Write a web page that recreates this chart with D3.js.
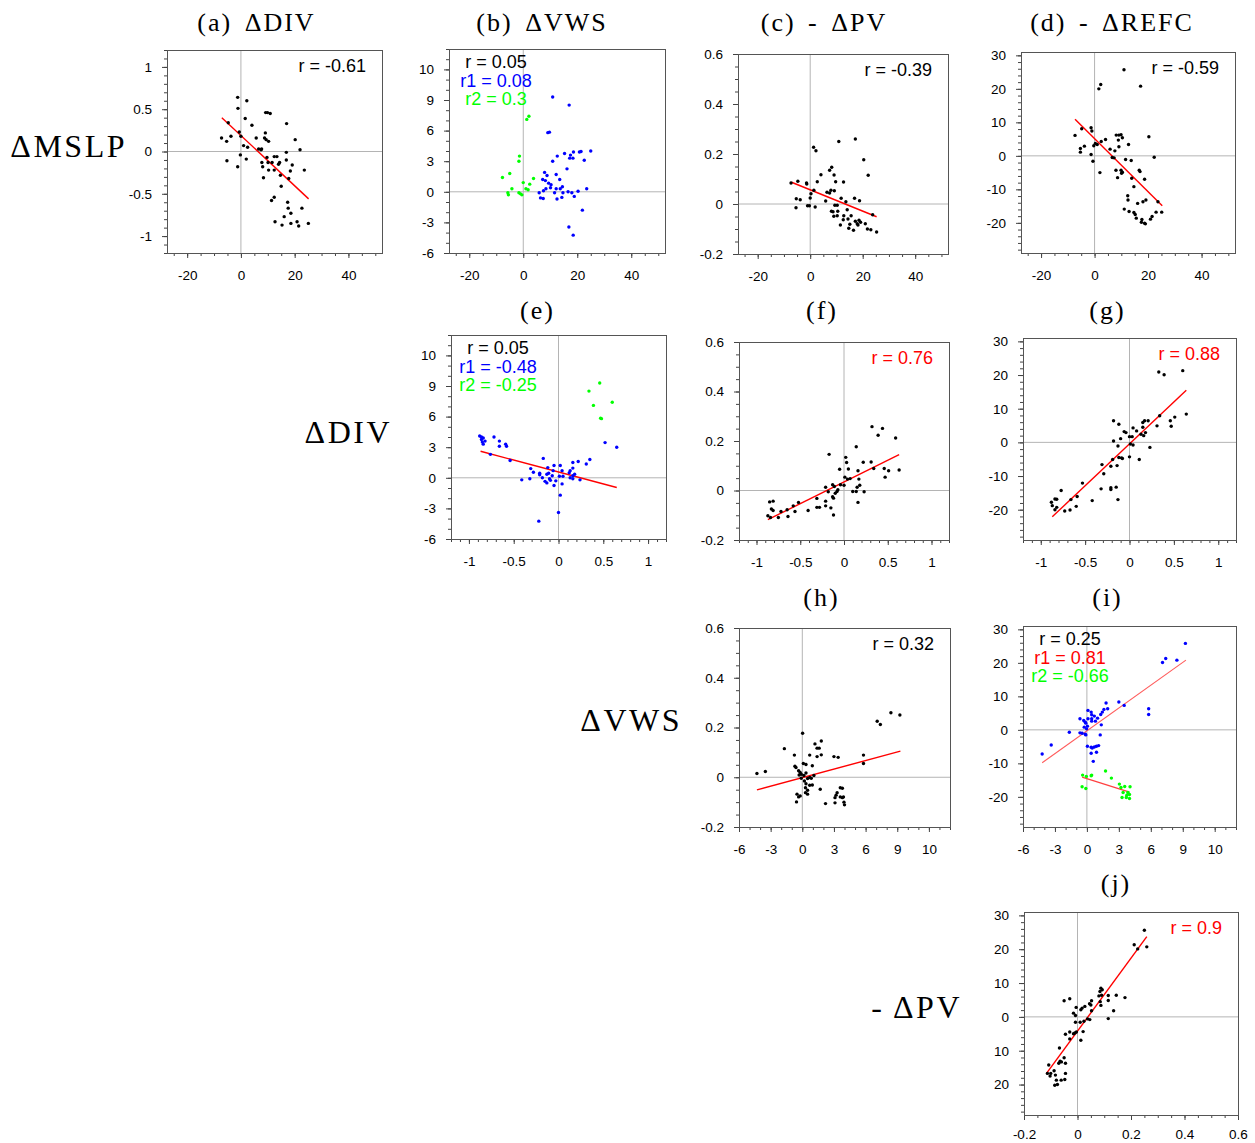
<!DOCTYPE html>
<html>
<head>
<meta charset="utf-8">
<script src="https://cdn.jsdelivr.net/npm/d3@7"></script>
<style>
body { margin: 0; background: #fff; }
.tick text { font-family: "Liberation Sans", Arial, sans-serif; font-size: 13.5px; fill: #000; }
.tick line { stroke: #444; }
.title { font-family: "Liberation Serif", "Times New Roman", serif; font-size: 26px; letter-spacing: 2px; word-spacing: 4px; }
.rowlab { font-family: "Liberation Serif", "Times New Roman", serif; font-size: 32px; letter-spacing: 2.5px; }
.rtxt { font-family: "Liberation Sans", Arial, sans-serif; font-size: 18px; }
</style>
</head>
<body>
<svg id="chart" width="1255" height="1143"></svg>
<script>
// tick values and labels (the "10" labels sit on the 12 tick, as in the original)
var ticksMslp = [-20, 0, 20, 40]
var labMslp = ['-20', '0', '20', '40']
var ticksDiv = [-1, -0.5, 0, 0.5, 1]
var labDiv = ['-1', '-0.5', '0', '0.5', '1']
var ticksVws = [-6, -3, 0, 3, 6, 9, 12]
var labVws = ['-6', '-3', '0', '3', '6', '9', '10']
var ticksPv = [-0.2, 0, 0.2, 0.4, 0.6]
var labPv = ['-0.2', '0', '0.2', '0.4', '0.6']
var ticksRefc = [-20, -10, 0, 10, 20, 30]
var labRefc = ['-20', '-10', '0', '10', '20', '30']
var labRefcJ = ['20', '10', '0', '10', '20', '30']

// (a) MSLP vs DIV
var ptsA = [[-1.2,0.64],[-1.1,0.51],[2.2,0.60],[1.6,0.39],[4.1,0.31],[-4.7,0.34],[-7.2,0.16],[-5.3,0.12],[-3.7,0.18],[-0.6,0.23],[0,0.18],[1.0,0.07],[2.5,0.05],[5.7,0.16],[6.6,0.03],[7.5,0.02],[7.7,0.03],[9.1,0.22],[8.8,0.16],[9.4,0.14],[10.3,0.12],[9.2,0.46],[9.9,0.46],[10.9,0.45],[17.0,0.33],[20.2,0.14],[22.0,0.02],[16.9,-0.01],[-5.2,-0.11],[-0.2,-0.04],[-1.2,-0.18],[2.0,-0.09],[7.8,-0.13],[8.1,-0.18],[8.4,-0.31],[9.7,-0.07],[10.1,-0.13],[10.3,-0.22],[11.6,-0.13],[12.4,-0.06],[13.4,-0.06],[14.4,-0.13],[14.0,-0.15],[12.4,-0.22],[14.7,-0.28],[15.0,-0.41],[16.9,-0.10],[17.8,-0.32],[18.4,-0.23],[19.1,-0.16],[23.6,-0.22],[11.4,-0.58],[12.4,-0.54],[17.4,-0.60],[17.6,-0.67],[18.6,-0.73],[16.1,-0.77],[12.7,-0.83],[15.3,-0.87],[18.6,-0.85],[20.9,-0.83],[21.5,-0.88],[22.7,-0.67],[25.1,-0.85]]
var fitA = [[-7.1, 0.40], [25.2, -0.56]]

// (b) MSLP vs VWS, two groups
var ptsB1 = [[10.9,9.3],[17.0,8.5],[9.1,5.8],[9.7,5.85],[12.6,3.5],[10.9,3.0],[15.3,3.75],[17.5,3.6],[17.2,3.3],[18.4,3.3],[18.6,3.9],[20.8,3.9],[21.4,3.95],[25.0,4.0],[22.6,3.1],[16.2,2.25],[7.9,1.9],[12.2,1.7],[8.8,1.6],[7.2,1.2],[8.2,1.1],[9.4,0.85],[10.3,0.7],[10.1,0.4],[13.5,1.2],[14.5,0.5],[13.7,0.3],[8.4,0.3],[7.5,0.1],[5.9,-0.1],[6.4,-0.6],[7.4,-0.65],[11.6,-0.1],[12.5,-0.7],[12.2,0.3],[14.7,-0.1],[16.6,0],[18.0,-0.1],[18.9,-0.45],[14.3,-0.55],[20.3,0.05],[23.5,0.3],[21.9,-1.8],[16.9,-3.45],[18.5,-4.25]]
var ptsB2 = [[1.3,7.1],[2.1,7.4],[-1.4,3.5],[-1.6,3.0],[-7.7,1.4],[-5.0,1.8],[-4.2,0.3],[-5.7,-0.1],[-5.5,-0.3],[-1.6,-0.1],[-1.0,-0.2],[-0.5,-0.3],[0,0.9],[1.0,0.3],[1.8,0.2],[2.4,0.75],[3.8,1.3]]

// (c) MSLP vs -PV
var ptsC = [[10.9,0.25],[17.2,0.26],[1.3,0.227],[2.2,0.213],[20.4,0.177],[22.1,0.115],[8.2,0.147],[7.4,0.135],[4.1,0.117],[9.1,0.116],[2.7,0.089],[9.7,0.089],[12.7,0.088],[-7.3,0.084],[-4.7,0.091],[-1.4,0.084],[-1.3,0.08],[1.4,0.055],[0.3,0.041],[6.4,0.047],[7.4,0.044],[7.9,0.055],[9.2,0.053],[-5.3,0.021],[-3.8,0.017],[0,0.024],[5.9,0.012],[11.8,0.023],[13.6,0.009],[16.9,0.023],[18.8,0.013],[-5.4,-0.015],[-1.0,-0.007],[-0.3,-0.007],[1.9,-0.012],[9.4,-0.005],[10.3,-0.005],[8.7,-0.031],[8.1,-0.029],[10.5,-0.029],[9.0,-0.049],[10.3,-0.047],[12.8,-0.047],[12.6,-0.063],[14.1,-0.023],[14.4,-0.06],[15.1,-0.081],[11.5,-0.084],[15.6,-0.047],[17.2,-0.069],[17.9,-0.079],[18.6,-0.065],[19.2,-0.073],[18.2,-0.084],[21.0,-0.079],[21.8,-0.1],[23.1,-0.103],[25.3,-0.112],[14.7,-0.097],[16.5,-0.105],[23.8,-0.043]]
var fitC = [[-7.1, 0.087], [25.3, -0.051]]

// (d) MSLP vs -REFC
var ptsD = [[11.0,25.7],[2.3,21.3],[1.6,20.0],[17.2,20.8],[-7.3,6.1],[-4.8,8.1],[-1.3,8.4],[-1.0,7.4],[-3.8,2.9],[-5.3,2.2],[-5.3,1.1],[-0.3,3.0],[0.3,3.7],[1.0,3.4],[2.5,4.3],[4.1,4.9],[-1.3,0.4],[-0.6,-1.6],[2.0,-5.0],[5.8,2.0],[6.6,-0.5],[7.3,-0.6],[7.6,1.5],[8.1,6.2],[9.1,6.2],[9.9,6.3],[8.9,4.7],[10.4,5.4],[9.1,2.7],[12.7,3.4],[8.0,-4.3],[8.6,-6.5],[9.9,-4.3],[10.1,-5.2],[10.4,-4.9],[11.6,-1.1],[13.7,-1.4],[13.9,-6.7],[14.7,-9.2],[16.7,-4.3],[17.0,-4.7],[18.7,-7.0],[20.3,5.7],[22.3,-0.4],[12.4,-11.9],[12.5,-13.2],[11.1,-15.9],[12.9,-16.6],[14.7,-16.9],[15.2,-17.5],[16.1,-14.2],[18.1,-13.7],[19.2,-13.2],[15.6,-18.6],[17.7,-19.0],[17.5,-19.8],[18.7,-20.1],[19.0,-20.3],[20.9,-18.9],[21.5,-18.1],[23.0,-16.8],[25.1,-16.8],[23.7,-13.7]]
var fitD = [[-7.3, 10.9], [25.3, -14.9]]

// (e) DIV vs VWS, two groups
var ptsE1 = [[-0.88,4.1],[-0.86,4.0],[-0.86,3.75],[-0.84,3.9],[-0.82,3.6],[-0.84,3.3],[-0.85,3.5],[-0.72,4.0],[-0.66,3.6],[-0.66,3.1],[-0.59,3.3],[-0.58,3.1],[-0.76,2.3],[-0.54,1.7],[-0.41,-0.2],[-0.31,0.9],[-0.28,0.55],[-0.32,-0.1],[-0.21,0.45],[-0.21,0.3],[-0.17,1.9],[-0.18,0],[-0.15,-0.35],[-0.13,-0.5],[-0.13,0.35],[-0.11,0.45],[-0.12,1.0],[-0.1,-0.1],[-0.07,0.2],[-0.09,-0.25],[-0.06,0.7],[-0.05,1.2],[-0.05,-0.75],[-0.03,-0.3],[0.01,0.15],[0.02,1.2],[0.04,0.7],[0.05,0.15],[0.04,-0.6],[0.02,-1.7],[0,-3.4],[-0.22,-4.25],[0.12,0.5],[0.13,0.7],[0.16,0.95],[0.16,1.5],[0.22,1.6],[0.16,0.2],[0.18,0.35],[0.13,0],[0.16,-0.1],[0.24,-0.2],[0.31,1.35],[0.35,1.8],[0.52,3.45],[0.65,3.0]]
var ptsE2 = [[0.34,8.5],[0.46,9.3],[0.39,7.1],[0.6,7.4],[0.47,5.85],[0.48,5.8]]
var fitE = [[-0.87, 2.6], [0.65, -0.95]]

// (f) DIV vs -PV
var ptsF = [[0.32,0.258],[0.44,0.251],[0.39,0.223],[0.59,0.212],[0.14,0.177],[-0.17,0.146],[0.02,0.134],[0.03,0.113],[0.22,0.114],[0.31,0.115],[-0.05,0.086],[0.05,0.087],[0.16,0.08],[0.34,0.089],[0.46,0.089],[0.51,0.08],[0.63,0.083],[0.47,0.054],[0.01,0.054],[0.04,0.046],[0.07,0.048],[0,0.021],[-0.04,0.023],[0.17,0.046],[0.18,0.021],[0.15,0.013],[0.1,-0.004],[0.14,-0.004],[0.23,-0.005],[0.16,-0.048],[-0.21,0.013],[-0.18,-0.005],[-0.13,0.023],[-0.11,0.016],[-0.08,-0.004],[-0.1,-0.011],[-0.07,0.003],[-0.13,-0.025],[-0.12,-0.031],[-0.21,-0.043],[-0.21,-0.062],[-0.31,-0.032],[-0.31,-0.068],[-0.28,-0.068],[-0.15,-0.07],[-0.12,-0.099],[-0.41,-0.081],[-0.52,-0.048],[-0.58,-0.062],[-0.56,-0.085],[-0.65,-0.078],[-0.64,-0.105],[-0.72,-0.085],[-0.85,-0.046],[-0.81,-0.043],[-0.83,-0.075],[-0.81,-0.081],[-0.87,-0.102],[-0.84,-0.109],[-0.75,-0.109]]
var fitF = [[-0.87, -0.118], [0.63, 0.145]]

// (g) DIV vs -REFC
var ptsG = [[0.33,20.9],[0.39,20.1],[0.6,21.3],[0.64,8.4],[0.51,7.5],[0.46,6.4],[0.47,4.8],[0.34,7.9],[0.31,4.9],[0.21,6.4],[0.17,6.4],[0.15,5.9],[0.15,4.5],[0.18,2.9],[0.16,2.0],[0.13,2.4],[0.08,3.4],[0.04,4.3],[0,1.7],[0.03,1.7],[0.01,-0.5],[0.04,-0.8],[0.23,-1.5],[0.11,-5.1],[0,-4.3],[-0.06,3.2],[-0.04,2.9],[-0.1,1.1],[-0.18,6.4],[-0.12,5.4],[-0.18,0.4],[-0.13,-1.1],[-0.12,-4.5],[-0.09,-4.6],[-0.08,-4.8],[-0.19,-5.1],[-0.21,-7.1],[-0.14,-6.9],[-0.31,-6.6],[-0.29,-9.3],[-0.53,-12.1],[-0.32,-13.8],[-0.21,-13.5],[-0.21,-14.0],[-0.15,-13.3],[-0.13,-17.0],[-0.42,-17.3],[-0.59,-16.1],[-0.6,-19.0],[-0.67,-20.1],[-0.66,-17.0],[-0.73,-20.4],[-0.77,-14.3],[-0.88,-17.8],[-0.87,-18.8],[-0.84,-16.8],[-0.82,-16.9],[-0.84,-20.0],[-0.82,-19.3]]
var fitG = [[-0.87, -22.1], [0.64, 15.5]]

// (h) VWS vs -PV
var ptsH = [[8.4,0.259],[9.25,0.25],[7.1,0.225],[7.4,0.212],[0.03,0.177],[-1.7,0.115],[1.8,0.146],[1.2,0.134],[1.4,0.117],[1.6,0.117],[-0.75,0.089],[0.7,0.089],[1.8,0.09],[1.4,0.083],[3.0,0.083],[3.4,0.08],[5.8,0.089],[5.8,0.055],[0.1,0.055],[0.35,0.051],[-0.7,0.044],[-0.6,0.039],[0.95,0.046],[-4.3,0.015],[-3.5,0.023],[-0.35,0.026],[-0.2,0.019],[-0.1,0.012],[0.35,0.017],[-0.3,0.009],[0.15,0.007],[-0.1,-0.004],[0.5,-0.005],[0.7,-0.001],[0.85,-0.004],[1.1,0.007],[0.2,-0.015],[0.35,-0.026],[0.95,-0.031],[0.7,-0.032],[1.7,-0.048],[0.3,-0.042],[0.5,-0.052],[0.3,-0.062],[0.5,-0.068],[-0.5,-0.068],[-0.2,-0.075],[-0.35,-0.079],[-0.55,-0.099],[2.2,-0.106],[3.1,-0.082],[3.3,-0.062],[3.6,-0.042],[3.8,-0.044],[3.2,-0.072],[3.6,-0.079],[3.8,-0.082],[3.9,-0.079],[3.1,-0.103],[3.95,-0.1],[4.0,-0.111]]
var fitH = [[-4.3, -0.051], [9.3, 0.105]]

// (i) VWS vs -REFC, two groups
var ptsI1 = [[9.25,25.8],[7.4,21.3],[7.1,20.1],[8.45,20.8],[3.0,8.3],[3.5,7.3],[1.8,8.0],[1.95,6.3],[1.6,6.1],[1.45,5.3],[1.3,4.6],[0.1,5.8],[0.4,5.3],[0.45,4.5],[0.1,3.3],[0.45,3.3],[0.45,2.6],[0.8,2.6],[0.7,4.1],[1.0,3.5],[-0.65,3.3],[-0.3,2.8],[-0.15,2.3],[-0.1,2.0],[-0.25,0.8],[0.05,1.1],[-0.03,0.3],[1.35,1.5],[-1.65,-0.7],[-0.65,-0.9],[-0.45,-1.0],[-0.1,-1.5],[-0.15,-1.3],[1.25,-1.5],[-3.35,-4.5],[-4.2,-7.2],[0.05,-4.9],[0.4,-5.2],[0.5,-5.4],[0.7,-5.1],[0.9,-4.9],[1.1,-4.7],[0.4,-7.0],[0.9,-6.7],[0.6,-9.4],[5.8,6.3],[5.8,4.6]]
var ptsI2 = [[-0.4,-13.5],[-0.05,-13.9],[0.45,-13.5],[0.4,-13.7],[1.75,-12.3],[2.3,-14.4],[-0.45,-17.0],[-0.1,-17.5],[3.05,-16.2],[3.2,-17.2],[3.55,-16.9],[4.05,-17.0],[3.4,-18.7],[3.3,-20.2],[3.7,-20.2],[4.0,-20.5],[3.85,-18.7],[4.0,-19.3],[3.75,-19.5]]
var fitI1 = [[-4.2, -9.8], [9.3, 20.8]]
var fitI2 = [[-0.45, -14.1], [4.0, -18.6]]

// (j) -PV vs -REFC
var ptsJ = [[0.25,25.6],[0.212,21.3],[0.225,20.1],[0.259,20.7],[-0.05,4.75],[-0.029,5.35],[0.084,7.5],[0.0875,8.5],[0.0925,8.0],[0.08,6.2],[0.09,6.4],[0.115,6.3],[0.145,6.4],[0.1775,5.7],[0.115,4.85],[0.085,4.5],[0.0875,3.4],[0.0525,4.75],[0.045,3.9],[0.05,3.5],[0.0275,3.1],[0.0175,2.6],[0.0125,2.1],[-0.005,2.8],[-0.015,1.1],[-0.0075,0.4],[0.0525,1.8],[0.135,1.8],[0.115,-0.5],[0.0375,-0.6],[0.046,-0.8],[-0.0075,-1.6],[0.01,-1.6],[0.024,-1.3],[-0.01,-4.75],[-0.004,-4.45],[-0.015,-5.0],[-0.029,-4.45],[-0.045,-5.15],[0.021,-4.35],[-0.029,-6.5],[0.0125,-6.9],[-0.0675,-9.2],[-0.05,-12.1],[-0.045,-13.7],[-0.065,-13.1],[-0.06,-13.3],[-0.07,-13.7],[-0.045,-16.7],[-0.1075,-14.2],[-0.1125,-16.7],[-0.1025,-17.5],[-0.1,-16.7],[-0.0875,-15.9],[-0.0825,-17.2],[-0.079,-18.7],[-0.085,-20.2],[-0.075,-20.0],[-0.061,-18.7],[-0.0475,-18.5]]
var fitJ = [[-0.116, -16.7], [0.259, 23.7]]

// correlation labels
var rA = [['r = -0.61', 'black']]
var rB = [['r = 0.05', 'black'], ['r1 = 0.08', 'blue'], ['r2 = 0.3', '#00ff00']]
var rC = [['r = -0.39', 'black']]
var rD = [['r = -0.59', 'black']]
var rE = [['r = 0.05', 'black'], ['r1 = -0.48', 'blue'], ['r2 = -0.25', '#00ff00']]
var rF = [['r = 0.76', 'red']]
var rG = [['r = 0.88', 'red']]
var rH = [['r = 0.32', 'black']]
var rI = [['r = 0.25', 'black'], ['r1 = 0.81', 'red'], ['r2 = -0.66', '#00ff00']]
var rJ = [['r = 0.9', 'red']]

var titles = ['(a) ΔDIV', '(b) ΔVWS', '(c) - ΔPV', '(d) - ΔREFC', '(e)', '(f)', '(g)', '(h)', '(i)', '(j)']
var rowLabels = ['ΔMSLP', 'ΔDIV', 'ΔVWS', '- ΔPV']

var svg = d3.select('#chart')

// panel layout: box = [left, right, top, bottom], xp = bottom label padding
var panels = [
    {box: [167, 382, 50, 253], xd: [-27.5, 52.5], yd: [-1.2, 1.2], xt: ticksMslp, xl: labMslp, xm: 5, yt: ticksDiv, yl: labDiv, ym: 0.1,
        groups: [[ptsA, 'black']], fits: [[fitA, 'red', 1.4]], r: rA, title: titles[0], ty: 31, tdx: -18},
    {box: [449, 665, 49, 253], xd: [-27.5, 52.5], yd: [-6, 14], xt: ticksMslp, xl: labMslp, xm: 5, yt: ticksVws, yl: labVws, ym: 1,
        groups: [[ptsB1, 'blue'], [ptsB2, '#00ff00']], fits: [], r: rB, title: titles[1], ty: 31, tdx: -15},
    {box: [738, 948, 54, 254], xd: [-27.5, 52.5], yd: [-0.2, 0.6], xt: ticksMslp, xl: labMslp, xm: 5, yt: ticksPv, yl: labPv, ym: 0.05,
        groups: [[ptsC, 'black']], fits: [[fitC, 'red', 1.4]], r: rC, title: titles[2], ty: 31, tdx: -19},
    {box: [1021, 1235, 52, 253], xd: [-27.5, 52.5], yd: [-29, 31], xt: ticksMslp, xl: labMslp, xm: 5, yt: ticksRefc, yl: labRefc, ym: 2,
        groups: [[ptsD, 'black']], fits: [[fitD, 'red', 1.4]], r: rD, title: titles[3], ty: 31, tdx: -16},
    {box: [451, 666, 335, 539], xd: [-1.2, 1.2], yd: [-6, 14], xt: ticksDiv, xl: labDiv, xm: 0.1, yt: ticksVws, yl: labVws, ym: 1,
        groups: [[ptsE1, 'blue'], [ptsE2, '#00ff00']], fits: [[fitE, 'red', 1.4]], r: rE, title: titles[4], ty: 319, tdx: -21},
    {box: [739, 949, 342, 540], xd: [-1.2, 1.2], yd: [-0.2, 0.6], xt: ticksDiv, xl: labDiv, xm: 0.1, yt: ticksPv, yl: labPv, ym: 0.05,
        groups: [[ptsF, 'black']], fits: [[fitF, 'red', 1.4]], r: rF, title: titles[5], ty: 319, tdx: -22},
    {box: [1023, 1236, 338, 540], xd: [-1.2, 1.2], yd: [-29, 31], xt: ticksDiv, xl: labDiv, xm: 0.1, yt: ticksRefc, yl: labRefc, ym: 2,
        groups: [[ptsG, 'black']], fits: [[fitG, 'red', 1.4]], r: rG, title: titles[6], ty: 319, tdx: -22},
    {box: [739, 950, 628, 827], xd: [-6, 14], yd: [-0.2, 0.6], xt: ticksVws, xl: labVws, xm: 1, yt: ticksPv, yl: labPv, ym: 0.05,
        groups: [[ptsH, 'black']], fits: [[fitH, 'red', 1.4]], r: rH, title: titles[7], ty: 606, tdx: -23},
    {box: [1023, 1236, 626, 827], xd: [-6, 14], yd: [-29, 31], xt: ticksVws, xl: labVws, xm: 1, yt: ticksRefc, yl: labRefc, ym: 2,
        groups: [[ptsI1, 'blue'], [ptsI2, '#00ff00']], fits: [[fitI1, '#ff5c5c', 1.1], [fitI2, '#ff4040', 1.2]], r: rI, title: titles[8], ty: 606, tdx: -22},
    {box: [1024, 1238, 912, 1115], xd: [-0.2, 0.6], yd: [-29, 31], xt: ticksPv, xl: labPv, xm: 0.05, yt: ticksRefc, yl: labRefcJ, ym: 2,
        groups: [[ptsJ, 'black']], fits: [[fitJ, 'red', 1.4]], r: rJ, title: titles[9], ty: 892, tdx: -15, xp: 9}
]

function minorTicks(dom, step) {
    var out = []
    var start = Math.ceil(dom[0] / step - 1e-9)
    for (var k = start; k * step <= dom[1] + 1e-9; k++) out.push(+(k * step).toFixed(4))
    return out
}

panels.forEach(function(p) {
    var L = p.box[0], R = p.box[1], T = p.box[2], B = p.box[3]
    var x = d3.scaleLinear().domain(p.xd).range([L, R])
    var y = d3.scaleLinear().domain(p.yd).range([B, T])
    var g = svg.append('g')

    // zero lines
    g.append('line').attr('x1', x(0)).attr('x2', x(0)).attr('y1', T).attr('y2', B)
        .attr('stroke', '#b4b4b4').attr('stroke-width', 1)
    g.append('line').attr('x1', L).attr('x2', R).attr('y1', y(0)).attr('y2', y(0))
        .attr('stroke', '#b4b4b4').attr('stroke-width', 1)

    // minor ticks
    g.append('g').attr('transform', 'translate(0,' + B + ')')
        .call(d3.axisBottom(x).tickValues(minorTicks(p.xd, p.xm)).tickSize(3).tickFormat(''))
        .call(function(s) { s.select('.domain').remove() })
    g.append('g').attr('transform', 'translate(' + L + ',0)')
        .call(d3.axisLeft(y).tickValues(minorTicks(p.yd, p.ym)).tickSize(3).tickFormat(''))
        .call(function(s) { s.select('.domain').remove() })

    // major ticks + labels
    g.append('g').attr('transform', 'translate(0,' + B + ')')
        .call(d3.axisBottom(x).tickValues(p.xt).tickSize(5).tickPadding(p.xp || 12)
            .tickFormat(function(d, i) { return p.xl[i] }))
        .call(function(s) { s.select('.domain').remove() })
    g.append('g').attr('transform', 'translate(' + L + ',0)')
        .call(d3.axisLeft(y).tickValues(p.yt).tickSize(5).tickPadding(10)
            .tickFormat(function(d, i) { return p.yl[i] }))
        .call(function(s) { s.select('.domain').remove() })

    // frame
    g.append('rect').attr('x', L + 0.5).attr('y', T + 0.5).attr('width', R - L).attr('height', B - T)
        .attr('fill', 'none').attr('stroke', '#555').attr('stroke-width', 1)

    // fit lines
    p.fits.forEach(function(f) {
        g.append('line')
            .attr('x1', x(f[0][0][0])).attr('y1', y(f[0][0][1]))
            .attr('x2', x(f[0][1][0])).attr('y2', y(f[0][1][1]))
            .attr('stroke', f[1]).attr('stroke-width', f[2])
    })

    // points
    p.groups.forEach(function(grp) {
        g.append('g').selectAll('circle')
            .data(grp[0])
            .enter()
            .append('circle')
            .attr('cx', function(d) { return x(d[0]) })
            .attr('cy', function(d) { return y(d[1]) })
            .attr('r', 1.7)
            .attr('fill', grp[1])
    })

    // correlation text
    if (p.r.length == 1) {
        g.append('text').attr('class', 'rtxt')
            .attr('x', R - 16).attr('y', T + 22)
            .attr('text-anchor', 'end')
            .attr('fill', p.r[0][1])
            .text(p.r[0][0])
    } else {
        p.r.forEach(function(r, i) {
            g.append('text').attr('class', 'rtxt')
                .attr('x', L + 47).attr('y', T + 19 + i * 18.5)
                .attr('text-anchor', 'middle')
                .attr('fill', r[1])
                .text(r[0])
        })
    }

    // panel title
    g.append('text').attr('class', 'title')
        .attr('x', (L + R) / 2 + p.tdx).attr('y', p.ty)
        .attr('text-anchor', 'middle')
        .text(p.title)
})

// row labels
var rowPos = [[127, 157], [392, 443], [682, 731], [962, 1018]]
rowLabels.forEach(function(t, i) {
    svg.append('text').attr('class', 'rowlab')
        .attr('x', rowPos[i][0]).attr('y', rowPos[i][1])
        .attr('text-anchor', 'end')
        .text(t)
})
</script>
</body>
</html>
